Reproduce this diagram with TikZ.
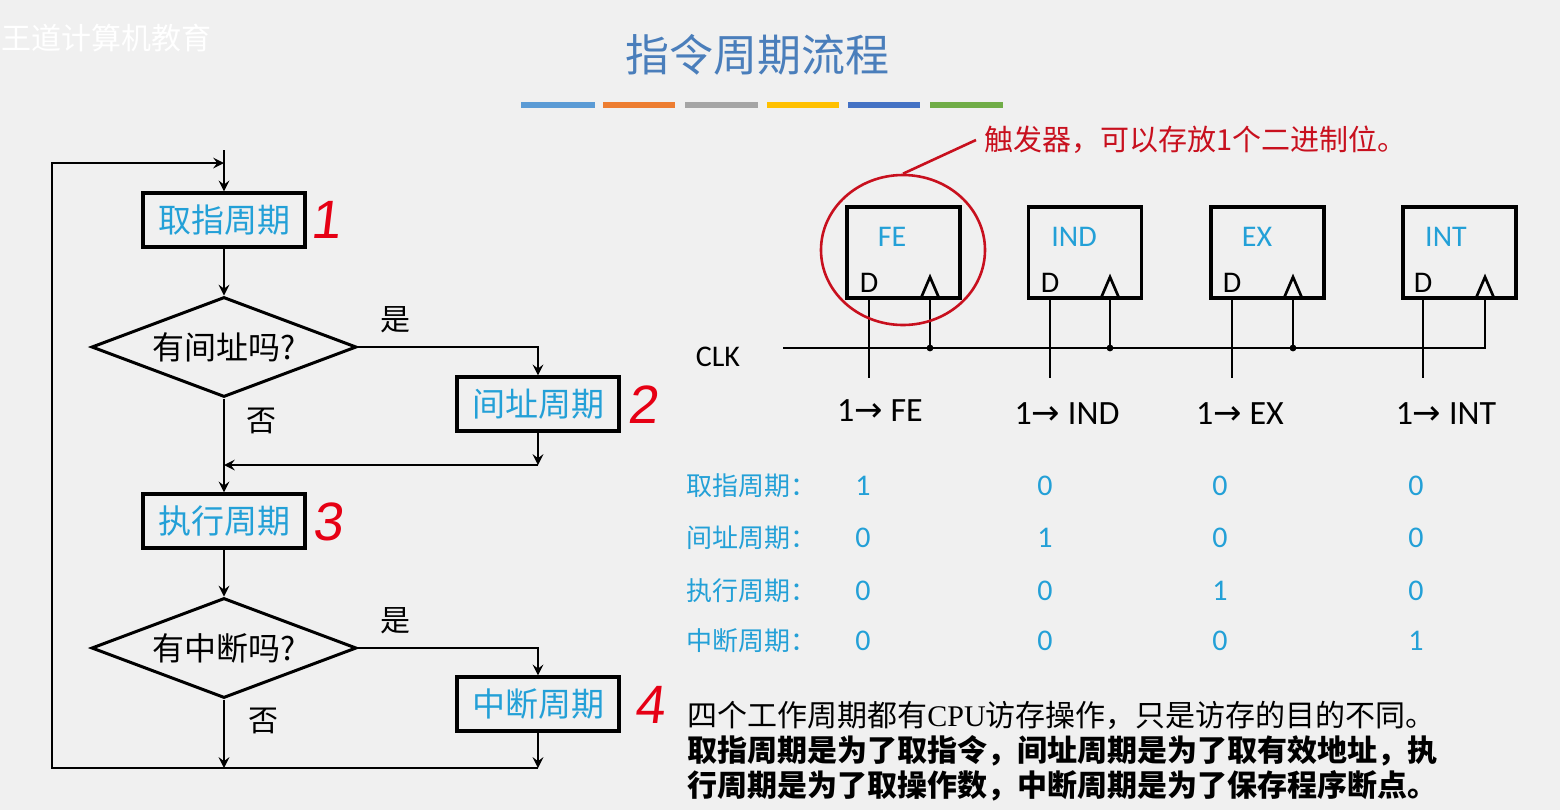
\documentclass[tikz,border=0pt]{standalone}
\usepackage{fontspec}
\usetikzlibrary{shapes.geometric}
\setmainfont{Carlito}
\newfontfamily\cjk{Noto Sans CJK SC}
\newfontfamily\arrowfont{DejaVu Sans}
\newfontfamily\serif{Liberation Serif}
\newfontfamily\handfont[FakeSlant=0.12]{Liberation Sans}
\definecolor{titleblue}{RGB}{74,126,187}
\definecolor{cycleblue}{RGB}{35,160,215}
\definecolor{markred}{RGB}{200,16,30}
\definecolor{handred}{RGB}{230,0,20}
\definecolor{bgray}{RGB}{240,240,240}
\definecolor{barblue}{RGB}{91,155,213}
\definecolor{barorange}{RGB}{237,125,49}
\definecolor{bargray}{RGB}{165,165,165}
\definecolor{bargold}{RGB}{255,192,0}
\definecolor{bardark}{RGB}{68,114,196}
\definecolor{bargreen}{RGB}{112,173,71}
\newcommand{\fsz}[1]{\fontsize{#1}{#1}\selectfont}
\newcommand{\tobit}[1]{1{\arrowfont →} #1}

\begin{document}
\begin{tikzpicture}[x=0.5pt,y=-0.5pt,>=stealth,line width=1.35pt]

%
% Styles
%
\tikzstyle{phase} = [rectangle,draw,line width=1.6pt,minimum width=81pt,minimum height=27pt,inner sep=0pt,text=cycleblue,font=\cjk\fsz{16.5}]
\tikzstyle{ask} = [diamond,draw,line width=1.5pt,aspect=2.65,minimum width=132.5pt,minimum height=50pt,inner sep=0pt,font=\cjk\fsz{16}]
\tikzstyle{answer} = [font=\cjk\fsz{15}]
\tikzstyle{handnum} = [text=handred,font=\handfont\fsz{27}]
\tikzstyle{ff} = [rectangle,draw,line width=1.6pt,minimum width=56.5pt,minimum height=45.5pt,inner sep=0pt]
\tikzstyle{ffname} = [text=cycleblue,font=\fsz{15}]
\tikzstyle{dlabel} = [font=\fsz{15}]
\tikzstyle{setbit} = [font=\fsz{17}]
\tikzstyle{rowname} = [anchor=west,inner sep=0pt,text=cycleblue,font=\cjk\fsz{13}]
\tikzstyle{bit} = [text=cycleblue,font=\fsz{15}]
\tikzstyle{strip} = [line width=3pt]

\fill[bgray] (0,0) rectangle (1560,810);
\useasboundingbox (0,0) rectangle (1560,810);

\node[anchor=west,inner sep=0pt,text=white,font=\cjk\fsz{15}] (logo) at (0,38) {王道计算机教育};
\node[text=titleblue,font=\cjk\fsz{22}] (title) at (757,55) {指令周期流程};

\draw[strip,barblue]   (521,105) -- (595,105);
\draw[strip,barorange] (603,105) -- (675,105);
\draw[strip,bargray]   (685,105) -- (758,105);
\draw[strip,bargold]   (767,105) -- (839,105);
\draw[strip,bardark]   (848,105) -- (920,105);
\draw[strip,bargreen]  (930,105) -- (1003,105);

% flow chart
\node[phase] (fetch) at (224,220) {取指周期};
\node[ask]   (q1)    at (224,347) {有间址吗?};
\node[phase] (indir) at (538,404) {间址周期};
\node[phase] (exec)  at (224,521) {执行周期};
\node[ask]   (q2)    at (224,648) {有中断吗?};
\node[phase] (intr)  at (538,704) {中断周期};

\node[answer] (yes1) at (395,320) {是};
\node[answer] (no1)  at (261,421) {否};
\node[answer] (yes2) at (395,621) {是};
\node[answer] (no2)  at (263,721) {否};

\node[handnum] (n1) at (326,220) {1};
\node[handnum] (n2) at (643,405) {2};
\node[handnum] (n3) at (328,522) {3};
\node[handnum] (n4) at (650,705) {4};

\coordinate (start)  at (224,150);
\coordinate (back)   at (224,163);
\coordinate (join1)  at (224,465);
\coordinate (join2)  at (224,768);
\coordinate (corner) at (52,768);

\draw[->] (start) -- (fetch);
\draw[->] (fetch) -- (q1);
\draw[->] (q1.east) -| (indir);
\draw[->] (q1) -- (exec);
\draw[->] (indir) -- (indir |- join1);
\draw[->] (indir |- join1) -- (join1);
\draw[->] (exec) -- (q2);
\draw[->] (q2.east) -| (intr);
\draw[->] (q2) -- (join2);
\draw[->] (intr) -- (intr |- join2);
\draw[->] (intr |- join2) -- (corner) |- (back);

% flip-flops
\node[ff] (fe)  at (903.5,252.5)  {};
\node[ff] (ind) at (1085,252.5)   {};
\node[ff] (ex)  at (1267.5,252.5) {};
\node[ff] (int) at (1459.5,252.5) {};

\node[ffname] (fename)  at (892,237)  {FE};
\node[ffname] (indname) at (1074,237) {IND};
\node[ffname] (exname)  at (1257,237) {EX};
\node[ffname] (intname) at (1446,237) {INT};

\node[dlabel] (fed)  at (869,283)  {D};
\node[dlabel] (indd) at (1050,283) {D};
\node[dlabel] (exd)  at (1232,283) {D};
\node[dlabel] (intd) at (1423,283) {D};

\draw (921,298) -- (930,277) -- (939,298);
\draw (1101,298) -- (1110,277) -- (1119,298);
\draw (1284,298) -- (1293,277) -- (1302,298);
\draw (1476,298) -- (1485,277) -- (1494,298);

\node[dlabel] (clk) at (718,357) {CLK};
\coordinate (clkin) at (783,348);
\coordinate (cfe)  at (930,348);
\coordinate (cind) at (1110,348);
\coordinate (cex)  at (1293,348);
\coordinate (cint) at (1485,348);
\coordinate (dfe)  at (869,378);
\coordinate (dind) at (1050,378);
\coordinate (dex)  at (1232,378);
\coordinate (dint) at (1423,378);

\draw (cint |- int.south) -- (cint) -- (clkin);
\draw (cfe |- fe.south) -- (cfe);
\draw (cind |- ind.south) -- (cind);
\draw (cex |- ex.south) -- (cex);
\fill (cfe) circle (1.7pt);
\fill (cind) circle (1.7pt);
\fill (cex) circle (1.7pt);

\draw (dfe |- fe.south) -- (dfe);
\draw (dind |- ind.south) -- (dind);
\draw (dex |- ex.south) -- (dex);
\draw (dint |- int.south) -- (dint);

\node[setbit] (sfe)  at (880,411)  {\tobit{FE}};
\node[setbit] (sind) at (1067,414) {\tobit{IND}};
\node[setbit] (sex)  at (1240,414) {\tobit{EX}};
\node[setbit] (sint) at (1446,414) {\tobit{INT}};

% note on the flip-flop
\node[ellipse,draw=markred,line width=1.3pt,minimum width=82pt,minimum height=75pt] (ring) at (903,250) {};
\node[anchor=west,text=markred,font=\cjk\fsz{14.5}] (note) at (976,140) {触发器，可以存放1个二进制位。};
\draw[markred,line width=1.3pt] (ring.north) -- (note.west);

% table
\node[rowname] (r1) at (685,486) {取指周期：};
\node[rowname] (r2) at (685,538) {间址周期：};
\node[rowname] (r3) at (685,591) {执行周期：};
\node[rowname] (r4) at (685,641) {中断周期：};

\node[bit] (r1fe) at (863,486) {1};  \node[bit] (r1ind) at (1045,486) {0};
\node[bit] (r1ex) at (1220,486) {0}; \node[bit] (r1int) at (1416,486) {0};
\node[bit] (r2fe) at (863,538) {0};  \node[bit] (r2ind) at (1045,538) {1};
\node[bit] (r2ex) at (1220,538) {0}; \node[bit] (r2int) at (1416,538) {0};
\node[bit] (r3fe) at (863,591) {0};  \node[bit] (r3ind) at (1045,591) {0};
\node[bit] (r3ex) at (1220,591) {1}; \node[bit] (r3int) at (1416,591) {0};
\node[bit] (r4fe) at (863,641) {0};  \node[bit] (r4ind) at (1045,641) {0};
\node[bit] (r4ex) at (1220,641) {0}; \node[bit] (r4int) at (1416,641) {1};

\node[anchor=west,inner sep=0pt,align=left,font=\cjk\fontsize{15}{17.5}\selectfont] (summary) at (686,751)
  {四个工作周期都有{\serif CPU}访存操作，只是访存的目的不同。\\
   \textbf{取指周期是为了取指令，间址周期是为了取有效地址，执}\\
   \textbf{行周期是为了取操作数，中断周期是为了保存程序断点。}};

\end{tikzpicture}
\end{document}
